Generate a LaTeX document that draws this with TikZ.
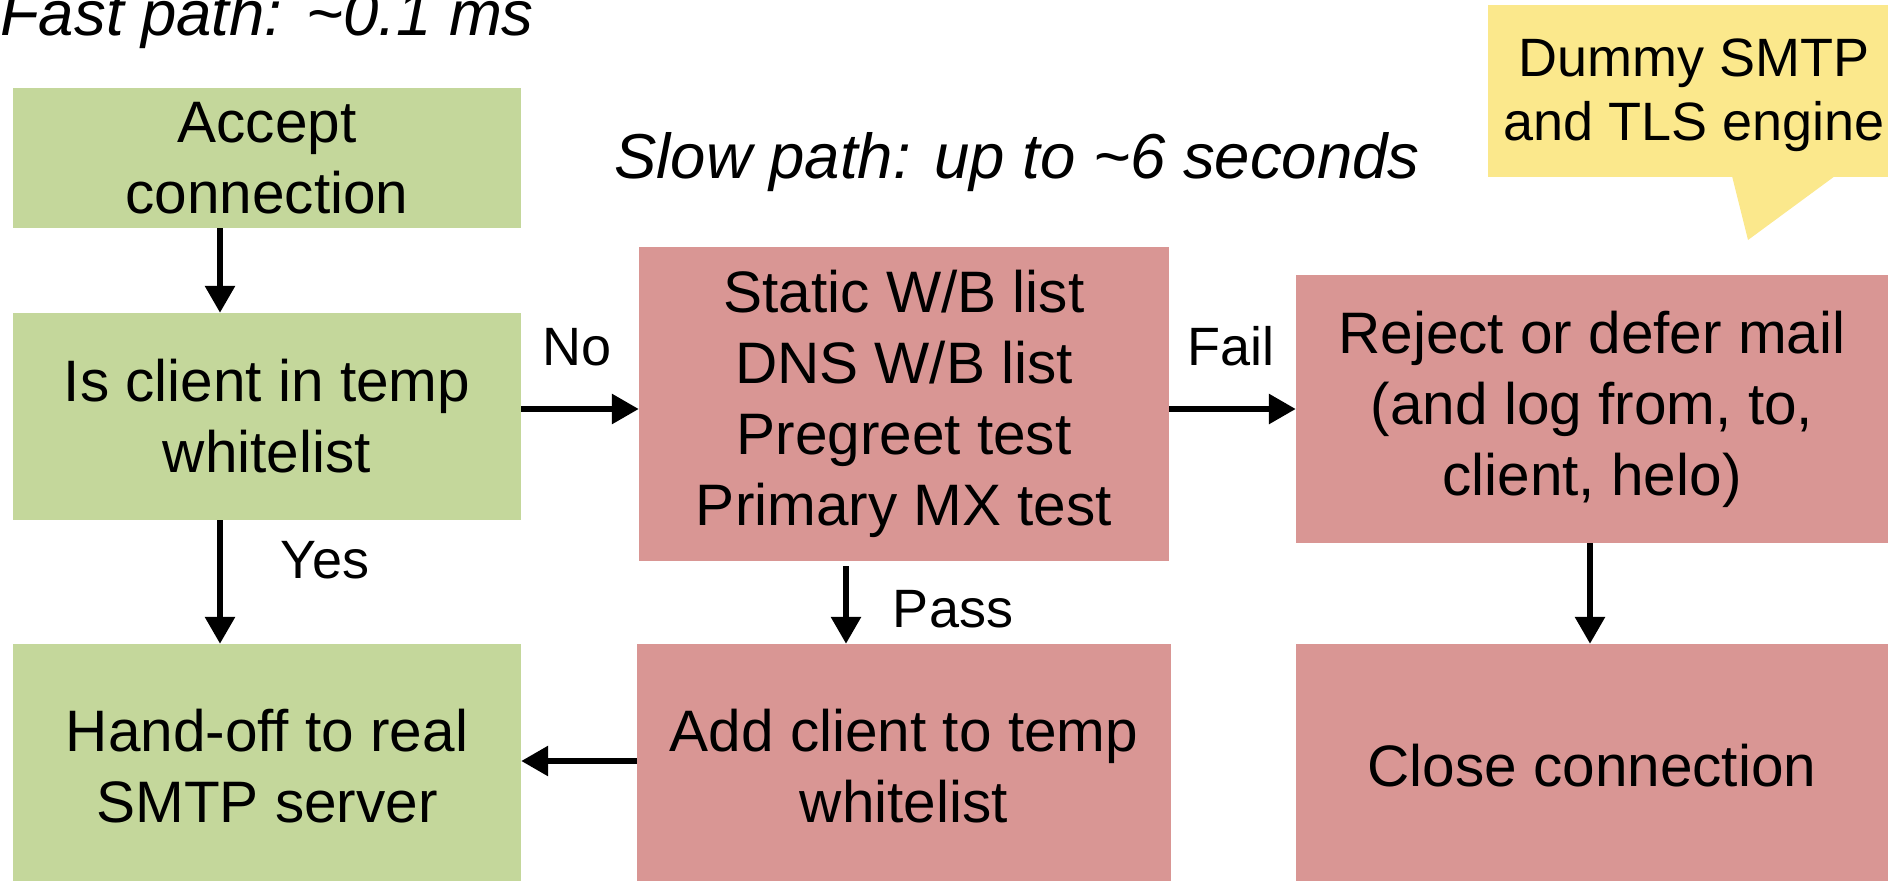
\documentclass[tikz,border=0pt]{standalone}
\usepackage{fontspec}
\setmainfont{Liberation Sans}
\usetikzlibrary{arrows.meta}
\definecolor{fgreen}{RGB}{196,215,155}
\definecolor{fred}{RGB}{217,150,148}
\definecolor{fyellow}{RGB}{251,232,140}
\tikzset{
  txt/.style={font=\fontsize{58.5}{71}\selectfont, align=center, inner sep=0pt},
  ttl/.style={font=\fontsize{63.5}{76}\selectfont\itshape, inner sep=0pt},
  gbox/.style={txt, fill=fgreen, draw=none},
  rbox/.style={txt, fill=fred, draw=none},
  lbl/.style={font=\fontsize{54}{64}\selectfont, inner sep=0pt, anchor=base},
  arr/.style={line width=6pt, -{Triangle[length=27pt,width=29pt]}},
}
\begin{document}
\begin{tikzpicture}[x=1pt,y=-1pt]
\useasboundingbox (0,0) rectangle (1888,881);
% titles
\node[ttl, anchor=base west] (fast) at (0,35) {Fast path: \char`\~0.1 ms};
\node[ttl, anchor=base] (slow) at (1017,178) {Slow path: up to \char`\~6 seconds};
% callout
\fill[fyellow] (1488,5) rectangle (1900,177);
\fill[fyellow] (1732,176) -- (1748,240) -- (1835,176) -- cycle;
\node[txt, font=\fontsize{54}{64}\selectfont] (callout) at (1694,95) {Dummy SMTP\\and TLS engine};
% boxes
\node[gbox, minimum width=508pt, minimum height=140pt] (accept) at (267,158) {Accept\\connection};
\node[gbox, minimum width=508pt, minimum height=207pt] (isclient) at (267,416.5) {Is client in temp\\whitelist};
\node[gbox, minimum width=508pt, minimum height=244pt] (handoff) at (267,766) {Hand-off to real\\SMTP server};
\node[rbox, minimum width=530pt, minimum height=314pt] (tests) at (904,404) {Static W/B list\\DNS W/B list\\Pregreet test\\Primary MX test};
\node[rbox, minimum width=534pt, minimum height=244pt] (addclient) at (904,766) {Add client to temp\\whitelist};
\node[rbox, minimum width=592pt, minimum height=268pt] (reject) at (1592,409) {Reject or defer mail\\(and log from, to,\\client, helo)};
\node[rbox, minimum width=592pt, minimum height=244pt] (close) at (1592,766) {Close connection};
% helper coordinates
\coordinate (xa) at (220,0);
\coordinate (yn) at (0,409);
\coordinate (xp) at (846,0);
\coordinate (ya) at (0,761);
\coordinate (xr) at (1590,0);
% connectors
\draw[arr] (accept.south -| xa) -- (isclient.north -| xa);
\draw[arr] (isclient.south -| xa) -- (handoff.north -| xa);
\draw[arr] (isclient.east |- yn) -- (tests.west |- yn);
\draw[arr, shorten <=5pt] (tests.south -| xp) -- (addclient.north -| xp);
\draw[arr] (addclient.west |- ya) -- (handoff.east |- ya);
\draw[arr] (tests.east |- yn) -- (reject.west |- yn);
\draw[arr] (reject.south -| xr) -- (close.north -| xr);
% labels
\node[lbl] (yes) at (325,578) {Yes};
\node[lbl] (no) at (577,365) {No};
\node[lbl] (pass) at (953,627) {Pass};
\node[lbl] (fail) at (1231,365) {Fail};
\end{tikzpicture}
\end{document}
